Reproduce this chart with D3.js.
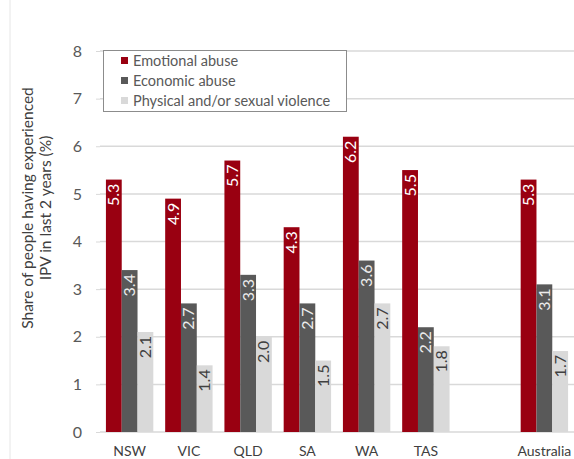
<!DOCTYPE html>
<html>
<head>
<script src="https://d3js.org/d3.v7.min.js"></script>
<style>
body { margin: 0; background: #fff; }
text { font-family: Lato, "Open Sans", sans-serif; }
</style>
</head>
<body>
<svg id="svg" width="574" height="459"></svg>
<script>
var categories = ["NSW", "VIC", "QLD", "SA", "WA", "TAS", "", "Australia"];
var seriesNames = ["Emotional abuse", "Economic abuse", "Physical and/or sexual violence"];
var emotional = [5.3, 4.9, 5.7, 4.3, 6.2, 5.5, null, 5.3];
var economic = [3.4, 2.7, 3.3, 2.7, 3.6, 2.2, null, 3.1];
var physical = [2.1, 1.4, 2.0, 1.5, 2.7, 1.8, null, 1.7];
var yTicks = [0, 1, 2, 3, 4, 5, 6, 7, 8];

var colors = ["#990011", "#595959", "#d9d9d9"];
var labelColors = ["#ffffff", "#ececec", "#404040"];
var allSeries = [emotional, economic, physical];

var svg = d3.select("svg");
var plotLeft = 100, plotRight = 574, plotTop = 51, plotBottom = 432;

// chart border
svg.append("line").attr("x1", 10).attr("x2", 10).attr("y1", 0).attr("y2", 459)
    .attr("stroke", "#e6e6e6").attr("stroke-width", 1);

var x = d3.scaleBand().domain(d3.range(categories.length)).range([plotLeft, plotRight]).paddingInner(0.2).paddingOuter(0.1);
var x1 = d3.scaleBand().domain([0, 1, 2]).range([0, x.bandwidth()]);
var y = d3.scaleLinear().domain([0, 8]).range([plotBottom, plotTop]);

// gridlines
svg.append("g").selectAll("line").data(yTicks).enter().append("line")
    .attr("x1", plotLeft).attr("x2", plotRight)
    .attr("y1", function(d) { return y(d); }).attr("y2", function(d) { return y(d); })
    .attr("stroke", "#d9d9d9").attr("stroke-width", 1.5);

// y axis
var yAxis = svg.append("g").attr("transform", "translate(" + plotLeft + ",0)")
    .call(d3.axisLeft(y).tickValues(yTicks).tickSize(4).tickPadding(14).tickFormat(d3.format("d")));
yAxis.select(".domain").remove();
yAxis.selectAll("line").attr("stroke", "#d9d9d9");
yAxis.selectAll("text").attr("fill", "#595959").style("font-size", "16px");

// x axis labels
svg.append("g").selectAll("text").data(categories).enter().append("text")
    .attr("x", function(d, i) { return x(i) + x.bandwidth() / 2; })
    .attr("y", 456)
    .attr("text-anchor", "middle")
    .attr("fill", "#404040").style("font-size", "14px")
    .text(function(d) { return d; });

// bars
allSeries.forEach(function(vals, s) {
    var g = svg.append("g");
    vals.forEach(function(v, i) {
        if (v === null) return;
        var bx = x(i) + x1(s);
        g.append("rect").attr("x", bx).attr("y", y(v))
            .attr("width", x1.bandwidth()).attr("height", y(0) - y(v))
            .attr("fill", colors[s]);
        var cx = bx + x1.bandwidth() / 2;
        g.append("text")
            .attr("transform", "translate(" + (cx + 5.5) + "," + (y(v) + 4) + ") rotate(-90)")
            .attr("text-anchor", "end")
            .attr("fill", labelColors[s]).style("font-size", "16px")
            .text(d3.format(".1f")(v));
    });
});

// legend
var lg = svg.append("g");
lg.append("rect").attr("x", 103.5).attr("y", 50.5).attr("width", 243).attr("height", 61)
    .attr("fill", "#fff").attr("stroke", "#8c8c8c").attr("stroke-width", 1);
seriesNames.forEach(function(name, i) {
    lg.append("rect").attr("x", 121).attr("y", 57 + i * 20).attr("width", 7).attr("height", 7)
        .attr("fill", colors[i]);
    lg.append("text").attr("x", 133).attr("y", 65.5 + i * 20)
        .attr("fill", "#595959").style("font-size", "14.5px").text(name);
});

// y title
var yt = svg.append("text").attr("transform", "translate(33,208) rotate(-90)")
    .attr("text-anchor", "middle").attr("fill", "#404040").style("font-size", "15.5px");
yt.append("tspan").attr("x", 0).attr("dy", 0).text("Share of people having experienced");
yt.append("tspan").attr("x", 0).attr("dy", 18).text("IPV in last 2 years (%)");
</script>
</body>
</html>
